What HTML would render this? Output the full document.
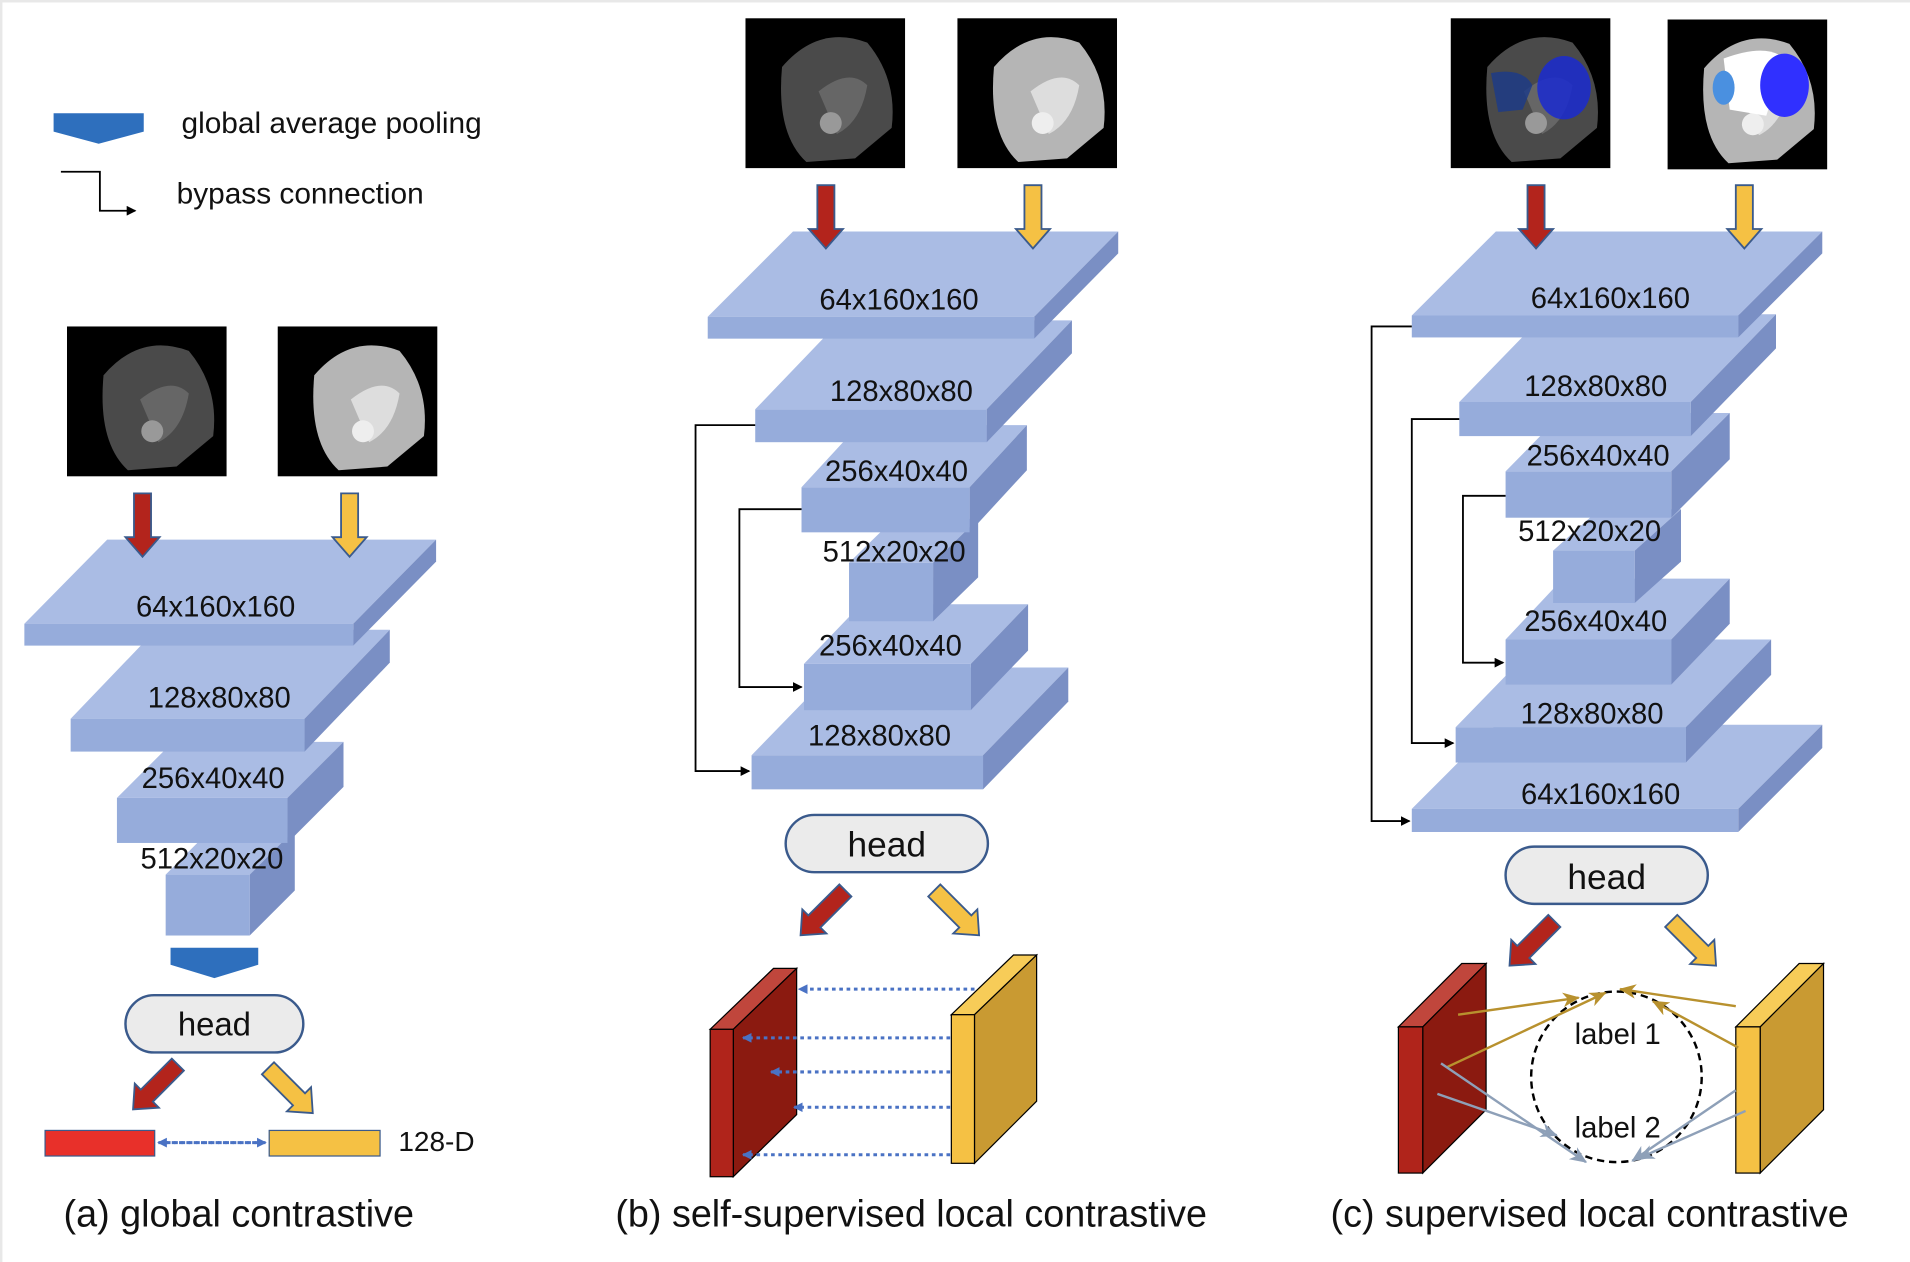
<!DOCTYPE html>
<html><head><meta charset="utf-8"><style>
html,body{margin:0;padding:0;background:#fff;}
svg{display:block;}
text{font-family:"Liberation Sans",sans-serif;fill:#111;}
</style></head><body>
<svg width="1910" height="1262" viewBox="0 0 1568 1036" xmlns="http://www.w3.org/2000/svg">
<defs>
<marker id="ab" markerWidth="8" markerHeight="8" refX="7" refY="4" orient="auto" markerUnits="userSpaceOnUse"><path d="M0,0 L8,4 L0,8z" fill="#000"/></marker>
<marker id="ablue" markerWidth="8" markerHeight="8" refX="7" refY="4" orient="auto" markerUnits="userSpaceOnUse"><path d="M0,0 L8,4 L0,8z" fill="#4a72c4"/></marker>
<marker id="agold" markerWidth="14" markerHeight="12" refX="13" refY="6" orient="auto" markerUnits="userSpaceOnUse"><path d="M0,0 L14,6 L0,12 L4,6z" fill="#b8912e"/></marker>
<marker id="agray" markerWidth="14" markerHeight="12" refX="13" refY="6" orient="auto" markerUnits="userSpaceOnUse"><path d="M0,0 L14,6 L0,12 L4,6z" fill="#8ea0b8"/></marker>
<g id="rarrow"><path d="M-7,0 L7,0 L7,36 L14,36 L0,52 L-14,36 L-7,36z" fill="#b3241c" stroke="#3a5a8c" stroke-width="1.5"/></g>
<g id="yarrow"><path d="M-7,0 L7,0 L7,36 L14,36 L0,52 L-14,36 L-7,36z" fill="#f5c144" stroke="#3a5a8c" stroke-width="1.5"/></g>
<g id="ctdark"><rect width="131" height="123" fill="#000"/><path d="M30,40 Q60,5 100,20 Q125,50 120,90 L90,115 L50,118 Q25,95 30,40z" fill="#4a4a4a"/><path d="M60,60 Q85,40 100,55 Q95,85 75,95z" fill="#666"/><circle cx="70" cy="86" r="9" fill="#999"/></g>
<g id="ctlight"><rect width="131" height="123" fill="#000"/><path d="M30,40 Q60,5 100,20 Q125,50 120,90 L90,115 L50,118 Q25,95 30,40z" fill="#b5b5b5"/><path d="M60,60 Q85,40 100,55 Q95,85 75,95z" fill="#ddd"/><circle cx="70" cy="86" r="9" fill="#eee"/></g>
</defs>
<rect x="0" y="0" width="1568" height="2" fill="#e8e8e8"/>
<rect x="0" y="0" width="2" height="1036" fill="#e8e8e8"/>

<!-- legend -->
<path d="M44,93 L118,93 L118,108 L81,118 L44,108z" fill="#2e6fbd"/>
<text x="149" y="109" font-size="24.5">global average pooling</text>
<path d="M50,141 L82,141 L82,173 L111,173" fill="none" stroke="#000" stroke-width="1.5" marker-end="url(#ab)"/>
<text x="145" y="167" font-size="24.5">bypass connection</text>

<!-- (a) -->
<use href="#ctdark" x="55" y="268"/>
<use href="#ctlight" x="228" y="268"/>
<polygon points="136,718 173,681 242,681 205,718" fill="#aabce4"/><polygon points="205,718 242,681 242,731 205,768" fill="#7a8fc4"/><rect x="136" y="718" width="69" height="50" fill="#96acdb"/>
<polygon points="96,655 142,609 282,609 236,655" fill="#aabce4"/><polygon points="236,655 282,609 282,646 236,692" fill="#7a8fc4"/><rect x="96" y="655" width="140" height="37" fill="#96acdb"/>
<polygon points="58,590 128,517 320,517 250,590" fill="#aabce4"/><polygon points="250,590 320,517 320,544 250,617" fill="#7a8fc4"/><rect x="58" y="590" width="192" height="27" fill="#96acdb"/>
<polygon points="20,512 88,443 358,443 290,512" fill="#aabce4"/><polygon points="290,512 358,443 358,461 290,530" fill="#7a8fc4"/><rect x="20" y="512" width="270" height="18" fill="#96acdb"/>
<use href="#rarrow" x="117" y="405"/>
<use href="#yarrow" x="287" y="405"/>
<g font-size="24" text-anchor="middle">
<text x="177" y="506">64x160x160</text><text x="180" y="581">128x80x80</text><text x="175" y="647">256x40x40</text><text x="174" y="713">512x20x20</text>
</g>
<path d="M140,778 L212,778 L212,792 L176,803 L140,792z" fill="#2e6fbd"/>
<rect x="103" y="817" width="146" height="47" rx="23.5" fill="#ebebeb" stroke="#3a5a8c" stroke-width="2"/>
<text x="176" y="850" font-size="27" text-anchor="middle">head</text>
<use href="#rarrow" transform="translate(146,874) rotate(45)"/>
<use href="#yarrow" transform="translate(220,877) rotate(-45)"/>
<rect x="37" y="928" width="90" height="21" fill="#e8302a" stroke="#3a5a8c" stroke-width="1"/>
<rect x="221" y="928" width="91" height="21" fill="#f5c144" stroke="#3a5a8c" stroke-width="1"/>
<line x1="137" y1="938" x2="218" y2="938" stroke="#4a72c4" stroke-width="2.5" stroke-dasharray="3,3" marker-end="url(#ablue)"/>
<line x1="210" y1="938" x2="130" y2="938" stroke="#4a72c4" stroke-width="2.5" stroke-dasharray="3,3" marker-end="url(#ablue)"/>
<text x="327" y="945" font-size="23">128-D</text>
<text x="196" y="1007" font-size="31" text-anchor="middle">(a) global contrastive</text>

<!-- (b) -->
<use href="#ctdark" x="612" y="15"/>
<use href="#ctlight" x="786" y="15"/>
<polygon points="617,620 687,548 877,548 807,620" fill="#aabce4"/><polygon points="807,620 877,548 877,576 807,648" fill="#7a8fc4"/><rect x="617" y="620" width="190" height="28" fill="#96acdb"/>
<polygon points="660,545 707,496 844,496 797,545" fill="#aabce4"/><polygon points="797,545 844,496 844,534 797,583" fill="#7a8fc4"/><rect x="660" y="545" width="137" height="38" fill="#96acdb"/>
<polygon points="697,462 734,426 803,426 766,462" fill="#aabce4"/><polygon points="766,462 803,426 803,474 766,510" fill="#7a8fc4"/><rect x="697" y="462" width="69" height="48" fill="#96acdb"/>
<polygon points="658,400 705,349 843,349 796,400" fill="#aabce4"/><polygon points="796,400 843,349 843,386 796,437" fill="#7a8fc4"/><rect x="658" y="400" width="138" height="37" fill="#96acdb"/>
<polygon points="620,336 690,263 880,263 810,336" fill="#aabce4"/><polygon points="810,336 880,263 880,290 810,363" fill="#7a8fc4"/><rect x="620" y="336" width="190" height="27" fill="#96acdb"/>
<polygon points="581,260 651,190 918,190 849,260" fill="#aabce4"/><polygon points="849,260 918,190 918,208 849,278" fill="#7a8fc4"/><rect x="581" y="260" width="268" height="18" fill="#96acdb"/>
<use href="#rarrow" x="678" y="152"/>
<use href="#yarrow" x="848" y="152"/>
<g font-size="24" text-anchor="middle">
<text x="738" y="254">64x160x160</text><text x="740" y="329">128x80x80</text><text x="736" y="395">256x40x40</text><text x="734" y="461">512x20x20</text><text x="731" y="538">256x40x40</text><text x="722" y="612">128x80x80</text>
</g>
<path d="M620,349 L571,349 L571,633 L615,633" fill="none" stroke="#000" stroke-width="1.5" marker-end="url(#ab)"/>
<path d="M658,418 L607,418 L607,564 L658,564" fill="none" stroke="#000" stroke-width="1.5" marker-end="url(#ab)"/>
<rect x="645" y="669" width="166" height="47" rx="23.5" fill="#ebebeb" stroke="#3a5a8c" stroke-width="2"/>
<text x="728" y="703" font-size="29" text-anchor="middle">head</text>
<use href="#rarrow" transform="translate(694,731) rotate(45)"/>
<use href="#yarrow" transform="translate(767,731) rotate(-45)"/>
<polygon points="583,845 635,795 654,795 602,845" fill="#c0463c" stroke="#000" stroke-width="1"/>
<polygon points="602,845 654,795 654,915 602,966" fill="#8b1a10" stroke="#000" stroke-width="1"/>
<rect x="583" y="845" width="19" height="121" fill="#b0241b" stroke="#000" stroke-width="1"/>
<polygon points="781,833 832,784 851,784 800,833" fill="#f7cc58" stroke="#000" stroke-width="1"/>
<polygon points="800,833 851,784 851,904 800,955" fill="#c99a32" stroke="#000" stroke-width="1"/>
<rect x="781" y="833" width="19" height="122" fill="#f5c144" stroke="#000" stroke-width="1"/>
<g stroke="#4a72c4" stroke-width="2.5" stroke-dasharray="3,3" marker-end="url(#ablue)">
<line x1="800" y1="812" x2="656" y2="812"/><line x1="780" y1="852" x2="610" y2="852"/><line x1="780" y1="880" x2="633" y2="880"/><line x1="780" y1="909" x2="652" y2="909"/><line x1="780" y1="948" x2="610" y2="948"/>
</g>
<text x="748" y="1007" font-size="31" text-anchor="middle">(b) self-supervised local contrastive</text>

<!-- (c) -->
<use href="#ctdark" x="1191" y="15"/>
<path d="M1224,60 Q1250,55 1258,70 L1250,90 L1230,92z" fill="#1a3a8a" opacity="0.8"/><ellipse cx="1284" cy="72" rx="22" ry="26" fill="#1a2ad0" opacity="0.85"/>
<use href="#ctlight" x="1369" y="16"/>
<path d="M1415,48 Q1450,35 1465,48 L1450,95 L1420,90z" fill="#fff"/><ellipse cx="1465" cy="70" rx="20" ry="26" fill="#3030ff"/><ellipse cx="1415" cy="72" rx="9" ry="14" fill="#4a90e0"/>
<polygon points="1159,664 1228,595 1496,595 1427,664" fill="#aabce4"/><polygon points="1427,664 1496,595 1496,614 1427,683" fill="#7a8fc4"/><rect x="1159" y="664" width="268" height="19" fill="#96acdb"/>
<polygon points="1195,597 1265,525 1454,525 1384,597" fill="#aabce4"/><polygon points="1384,597 1454,525 1454,554 1384,626" fill="#7a8fc4"/><rect x="1195" y="597" width="189" height="29" fill="#96acdb"/>
<polygon points="1236,525 1283,475 1420,475 1372,525" fill="#aabce4"/><polygon points="1372,525 1420,475 1420,512 1372,562" fill="#7a8fc4"/><rect x="1236" y="525" width="136" height="37" fill="#96acdb"/>
<polygon points="1275,452 1313,418 1380,418 1342,452" fill="#aabce4"/><polygon points="1342,452 1380,418 1380,461 1342,495" fill="#7a8fc4"/><rect x="1275" y="452" width="67" height="43" fill="#96acdb"/>
<polygon points="1236,387 1283,339 1420,339 1372,387" fill="#aabce4"/><polygon points="1372,387 1420,339 1420,377 1372,425" fill="#7a8fc4"/><rect x="1236" y="387" width="136" height="38" fill="#96acdb"/>
<polygon points="1198,330 1268,258 1458,258 1388,330" fill="#aabce4"/><polygon points="1388,330 1458,258 1458,286 1388,358" fill="#7a8fc4"/><rect x="1198" y="330" width="190" height="28" fill="#96acdb"/>
<polygon points="1159,259 1228,190 1496,190 1427,259" fill="#aabce4"/><polygon points="1427,259 1496,190 1496,208 1427,277" fill="#7a8fc4"/><rect x="1159" y="259" width="268" height="18" fill="#96acdb"/>
<use href="#rarrow" x="1261" y="152"/>
<use href="#yarrow" x="1432" y="152"/>
<g font-size="24" text-anchor="middle">
<text x="1322" y="253">64x160x160</text><text x="1310" y="325">128x80x80</text><text x="1312" y="382">256x40x40</text><text x="1305" y="444">512x20x20</text><text x="1310" y="518">256x40x40</text><text x="1307" y="594">128x80x80</text><text x="1314" y="660">64x160x160</text>
</g>
<path d="M1159,268 L1126,268 L1126,674 L1157,674" fill="none" stroke="#000" stroke-width="1.5" marker-end="url(#ab)"/>
<path d="M1198,344 L1159,344 L1159,610 L1193,610" fill="none" stroke="#000" stroke-width="1.5" marker-end="url(#ab)"/>
<path d="M1236,407 L1201,407 L1201,544 L1234,544" fill="none" stroke="#000" stroke-width="1.5" marker-end="url(#ab)"/>
<rect x="1236" y="695" width="166" height="47" rx="23.5" fill="#ebebeb" stroke="#3a5a8c" stroke-width="2"/>
<text x="1319" y="730" font-size="29" text-anchor="middle">head</text>
<use href="#rarrow" transform="translate(1276,756) rotate(45)"/>
<use href="#yarrow" transform="translate(1372,756) rotate(-45)"/>
<polygon points="1148,843 1200,791 1220,791 1168,843" fill="#c0463c" stroke="#000" stroke-width="1"/>
<polygon points="1168,843 1220,791 1220,911 1168,963" fill="#8b1a10" stroke="#000" stroke-width="1"/>
<rect x="1148" y="843" width="20" height="120" fill="#b0241b" stroke="#000" stroke-width="1"/>
<polygon points="1425,843 1477,791 1497,791 1445,843" fill="#f7cc58" stroke="#000" stroke-width="1"/>
<polygon points="1445,843 1497,791 1497,911 1445,963" fill="#c99a32" stroke="#000" stroke-width="1"/>
<rect x="1425" y="843" width="20" height="120" fill="#f5c144" stroke="#000" stroke-width="1"/>
<ellipse cx="1327" cy="884" rx="70" ry="70" fill="none" stroke="#000" stroke-width="2" stroke-dasharray="6,4"/>
<text x="1328" y="857" font-size="24" text-anchor="middle">label 1</text>
<text x="1328" y="934" font-size="24" text-anchor="middle">label 2</text>
<g stroke="#b8912e" stroke-width="2" fill="none" marker-end="url(#agold)">
<line x1="1197" y1="833" x2="1296" y2="819"/><line x1="1188" y1="876" x2="1318" y2="815"/><line x1="1425" y1="826" x2="1330" y2="812"/><line x1="1427" y1="860" x2="1357" y2="822"/>
</g>
<g stroke="#8ea0b8" stroke-width="2" fill="none" marker-end="url(#agray)">
<line x1="1183" y1="873" x2="1302" y2="954"/><line x1="1180" y1="898" x2="1278" y2="932"/><line x1="1425" y1="895" x2="1340" y2="953"/><line x1="1433" y1="912" x2="1345" y2="951"/>
</g>
<text x="1305" y="1007" font-size="31" text-anchor="middle">(c) supervised local contrastive</text>
</svg>
</body></html>
